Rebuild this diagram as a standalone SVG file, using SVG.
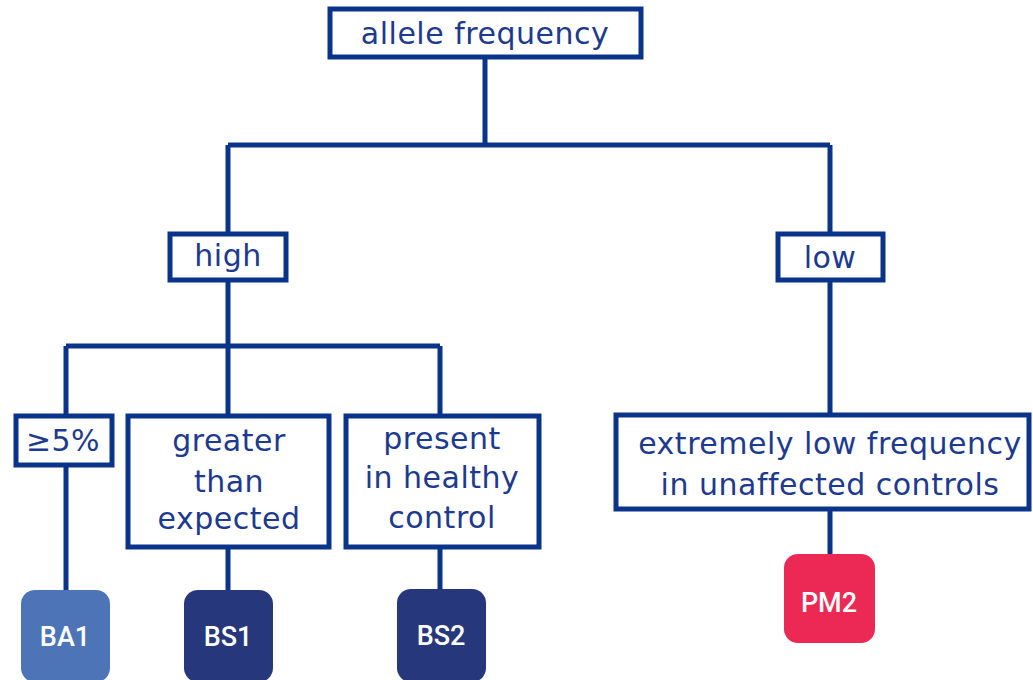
<svg xmlns="http://www.w3.org/2000/svg" width="1033" height="680" viewBox="0 0 1033 680">
  <style>
    .box { fill: #ffffff; stroke: #0a348a; stroke-width: 5; }
    .wire { fill: none; stroke: #0a348a; stroke-width: 5; stroke-linecap: butt; }
    .lbl { font-family: "DejaVu Sans", "Noto Sans", sans-serif; font-size: 30px; letter-spacing: 0.5px; fill: #1d3a8e; text-anchor: middle; }
    .tag { font-family: Roboto, "Liberation Sans", sans-serif; font-size: 27px; font-weight: 500; fill: #ffffff; text-anchor: middle; }
  </style>
  <rect width="1033" height="680" fill="#ffffff"/>

  <!-- connectors -->
  <g id="connectors">
    <path class="wire" d="M485 57 V145 M228 145 H830 M228 145 V232 M830 145 V232"/>
    <path class="wire" d="M228 280 V414 M66 346 H440 M66 346 V414 M440 346 V414"/>
    <path class="wire" d="M830 280 V413"/>
    <path class="wire" d="M66 466 V592 M228 548 V592 M440 548 V592 M830 510 V556"/>
  </g>

  <g id="root">
    <rect class="box" x="330" y="9" width="311" height="48"/>
    <text class="lbl" x="485" y="44">allele frequency</text>
  </g>

  <g id="high">
    <rect class="box" x="170" y="234" width="116" height="46"/>
    <text class="lbl" x="228" y="266">high</text>
  </g>

  <g id="low">
    <rect class="box" x="778" y="234" width="105" height="46"/>
    <text class="lbl" x="830" y="268">low</text>
  </g>

  <g id="ge5">
    <rect class="box" x="16" y="416" width="96" height="49"/>
    <text class="lbl" x="63" y="451">≥5%</text>
  </g>

  <g id="greater">
    <rect class="box" x="128" y="416" width="201" height="131"/>
    <text class="lbl" x="229" y="451">greater</text>
    <text class="lbl" x="229" y="492">than</text>
    <text class="lbl" x="229" y="529">expected</text>
  </g>

  <g id="present">
    <rect class="box" x="346" y="416" width="193" height="131"/>
    <text class="lbl" x="442" y="449">present</text>
    <text class="lbl" x="442" y="488">in healthy</text>
    <text class="lbl" x="442" y="528">control</text>
  </g>

  <g id="extreme">
    <rect class="box" x="616" y="415" width="413" height="94"/>
    <text class="lbl" x="830" y="454">extremely low frequency</text>
    <text class="lbl" x="830" y="495">in unaffected controls</text>
  </g>

  <g id="BA1">
    <rect x="21" y="590" width="89" height="92" rx="14" fill="#4e74b8"/>
    <text class="tag" x="65" y="646">BA1</text>
  </g>

  <g id="BS1">
    <rect x="184" y="590" width="89" height="92" rx="14" fill="#26387b"/>
    <text class="tag" x="228" y="646">BS1</text>
  </g>

  <g id="BS2">
    <rect x="397" y="589" width="89" height="93" rx="14" fill="#26387b"/>
    <text class="tag" x="441" y="645">BS2</text>
  </g>

  <g id="PM2">
    <rect x="784" y="554" width="91" height="89" rx="14" fill="#ec2855"/>
    <text class="tag" x="829" y="612">PM2</text>
  </g>
</svg>
